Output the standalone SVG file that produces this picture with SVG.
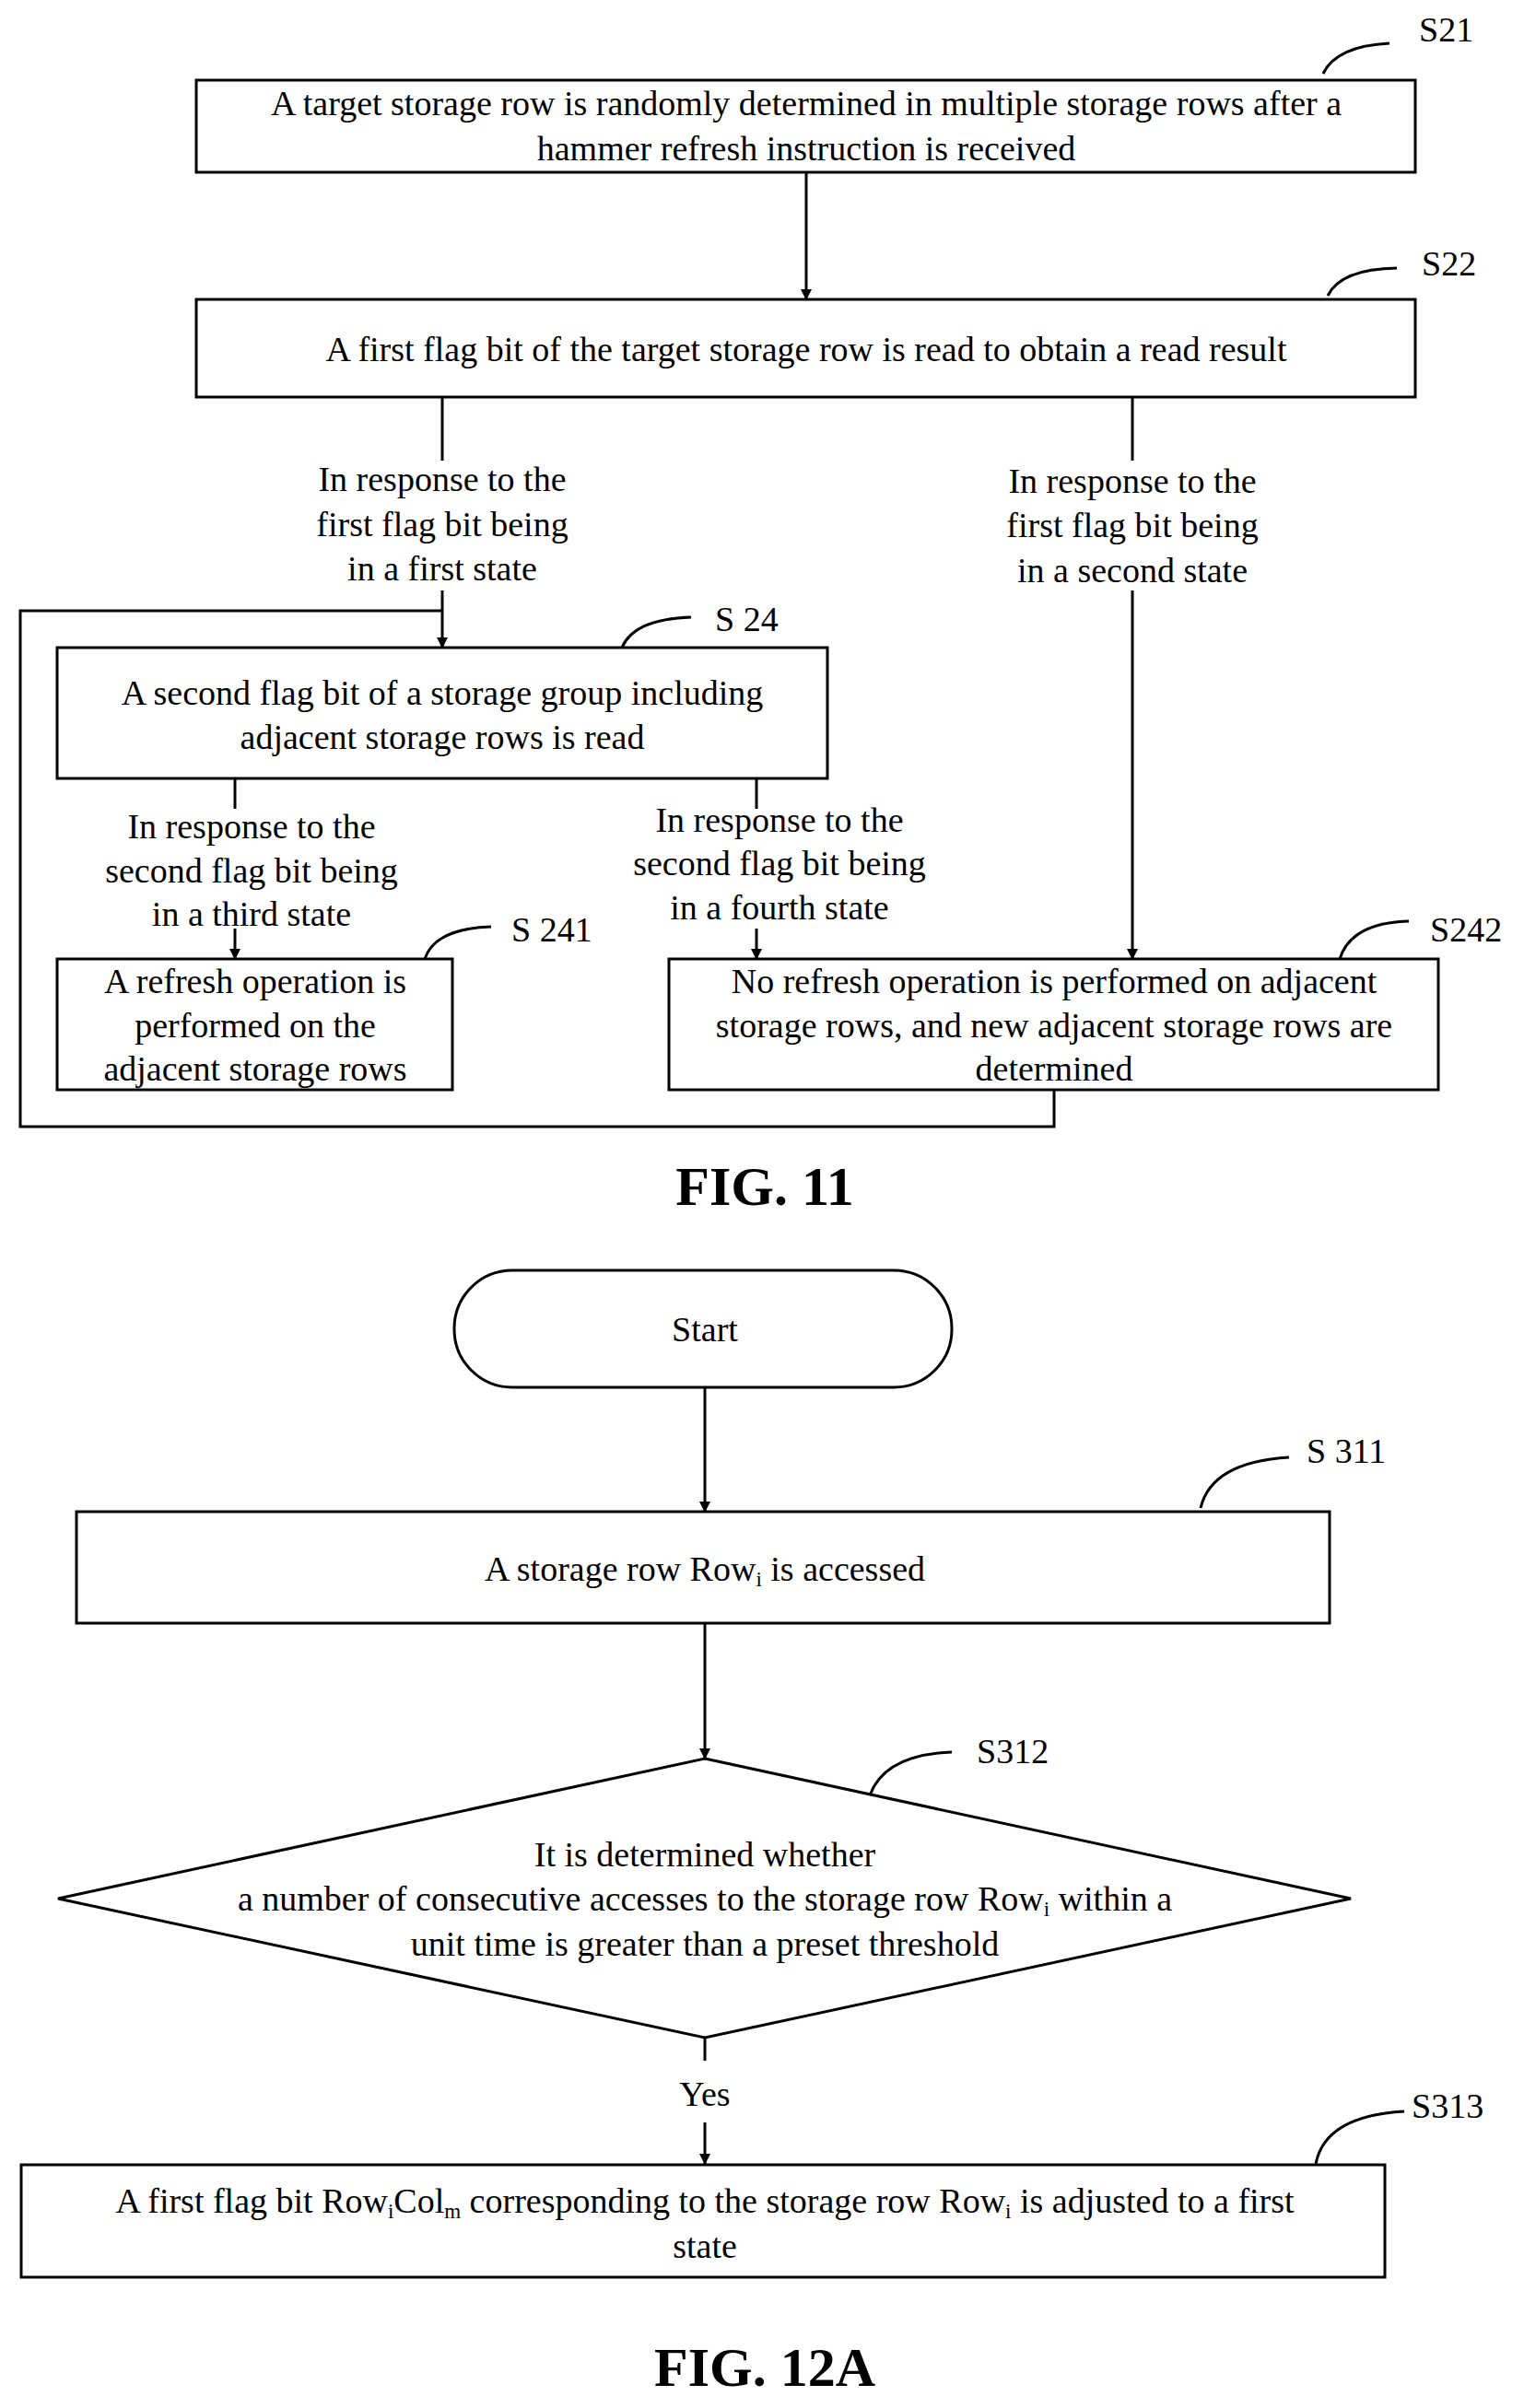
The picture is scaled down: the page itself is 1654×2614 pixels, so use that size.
<svg xmlns="http://www.w3.org/2000/svg" width="1654" height="2614" viewBox="0 0 1654 2614" font-family="Liberation Serif, serif">
<defs>
<marker id="ah" markerWidth="12" markerHeight="12" refX="11" refY="6" orient="auto" markerUnits="userSpaceOnUse">
<path d="M0,0 L12,6 L0,12 Z" fill="#000"/>
</marker>
<style>
.b{fill:#fff;stroke:#000;stroke-width:3}
.l{fill:none;stroke:#000;stroke-width:3}
.a{fill:none;stroke:#000;stroke-width:3;marker-end:url(#ah)}
.c{fill:none;stroke:#000;stroke-width:3}
text{font-family:'Liberation Serif',serif;font-size:38px;fill:#000}
.m{text-anchor:middle}
.f{font-size:60px;font-weight:bold;text-anchor:middle}
</style>
</defs>
<rect width="1654" height="2614" fill="#fff"/>
<g id="connectors">
<line class="a" x1="875" y1="187" x2="875" y2="325"/>
<line class="l" x1="480" y1="431" x2="480" y2="500"/>
<line class="a" x1="480" y1="641" x2="480" y2="703"/>
<polyline class="l" points="480,663 22,663 22,1223 1144,1223 1144,1183"/>
<line class="l" x1="1229" y1="431" x2="1229" y2="500"/>
<line class="a" x1="1229" y1="641" x2="1229" y2="1041"/>
<line class="l" x1="255" y1="845" x2="255" y2="878"/>
<line class="a" x1="255" y1="1008" x2="255" y2="1041"/>
<line class="l" x1="821" y1="845" x2="821" y2="878"/>
<line class="a" x1="821" y1="1008" x2="821" y2="1041"/>
<line class="a" x1="765" y1="1506" x2="765" y2="1641"/>
<line class="a" x1="765" y1="1762" x2="765" y2="1909"/>
<line class="l" x1="765" y1="2212" x2="765" y2="2237"/>
<line class="a" x1="765" y1="2304" x2="765" y2="2349"/>
</g>
<g id="labels">
<text class="m" x="480" y="533">In response to the</text>
<text class="m" x="480" y="582">first flag bit being</text>
<text class="m" x="480" y="630">in a first state</text>
<text class="m" x="1229" y="535">In response to the</text>
<text class="m" x="1229" y="583">first flag bit being</text>
<text class="m" x="1229" y="632">in a second state</text>
<text class="m" x="273" y="910">In response to the</text>
<text class="m" x="273" y="958">second flag bit being</text>
<text class="m" x="273" y="1005">in a third state</text>
<text class="m" x="846" y="903">In response to the</text>
<text class="m" x="846" y="950">second flag bit being</text>
<text class="m" x="846" y="998">in a fourth state</text>
<text class="m" x="765" y="2286">Yes</text>
</g>
<g id="S21">
<rect class="b" x="213" y="87" width="1323" height="100"/>
<text class="m" x="875" y="125">A target storage row is randomly determined in multiple storage rows after a</text>
<text class="m" x="875" y="174">hammer refresh instruction is received</text>
<path class="c" d="M1436,80 Q1450,50 1508,47"/>
<text x="1540" y="45">S21</text>
</g>
<g id="S22">
<rect class="b" x="213" y="325" width="1323" height="106"/>
<text class="m" x="875" y="392">A first flag bit of the target storage row is read to obtain a read result</text>
<path class="c" d="M1441,321 Q1455,292 1516,291"/>
<text x="1543" y="299">S22</text>
</g>
<g id="S24">
<rect class="b" x="62" y="703" width="836" height="142"/>
<text class="m" x="480" y="765">A second flag bit of a storage group including</text>
<text class="m" x="480" y="813">adjacent storage rows is read</text>
<path class="c" d="M675,703 Q688,672 750,670"/>
<text x="776" y="685">S 24</text>
</g>
<g id="S241">
<rect class="b" x="62" y="1041" width="429" height="142"/>
<text class="m" x="277" y="1078">A refresh operation is</text>
<text class="m" x="277" y="1126">performed on the</text>
<text class="m" x="277" y="1173">adjacent storage rows</text>
<path class="c" d="M461,1041 Q472,1008 533,1006"/>
<text x="555" y="1022">S 241</text>
</g>
<g id="S242">
<rect class="b" x="726" y="1041" width="835" height="142"/>
<text class="m" x="1144" y="1078">No refresh operation is performed on adjacent</text>
<text class="m" x="1144" y="1126">storage rows, and new adjacent storage rows are</text>
<text class="m" x="1144" y="1173">determined</text>
<path class="c" d="M1454,1041 Q1466,1002 1529,1000"/>
<text x="1552" y="1022">S242</text>
</g>
<text class="f" x="830" y="1308">FIG. 11</text>
<g id="start">
<rect class="b" x="493" y="1379" width="540" height="127" rx="63" ry="63"/>
<text class="m" x="765" y="1456">Start</text>
</g>
<g id="S311">
<rect class="b" x="83" y="1641" width="1360" height="121"/>
<text class="m" x="765" y="1716">A storage row Row<tspan font-size="23" dy="6">i</tspan><tspan dy="-6"> is accessed</tspan></text>
<path class="c" d="M1303,1637 Q1315,1587 1399,1582"/>
<text x="1418" y="1588">S 311</text>
</g>
<g id="S312">
<polygon class="b" points="765,1909 1466,2061 765,2212 63,2061"/>
<text class="m" x="765" y="2026">It is determined whether</text>
<text class="m" x="765" y="2074">a number of consecutive accesses to the storage row Row<tspan font-size="23" dy="6">i</tspan><tspan dy="-6"> within a</tspan></text>
<text class="m" x="765" y="2123">unit time is greater than a preset threshold</text>
<path class="c" d="M944,1949 Q960,1905 1033,1902"/>
<text x="1060" y="1914">S312</text>
</g>
<g id="S313">
<rect class="b" x="23" y="2350" width="1480" height="122"/>
<text class="m" x="765" y="2402">A first flag bit Row<tspan font-size="23" dy="6">i</tspan><tspan dy="-6">Col</tspan><tspan font-size="23" dy="6">m</tspan><tspan dy="-6"> corresponding to the storage row Row</tspan><tspan font-size="23" dy="6">i</tspan><tspan dy="-6"> is adjusted to a first</tspan></text>
<text class="m" x="765" y="2451">state</text>
<path class="c" d="M1428,2349 Q1438,2297 1524,2292"/>
<text x="1532" y="2299">S313</text>
</g>
<text class="f" x="830" y="2590">FIG. 12A</text>
</svg>
